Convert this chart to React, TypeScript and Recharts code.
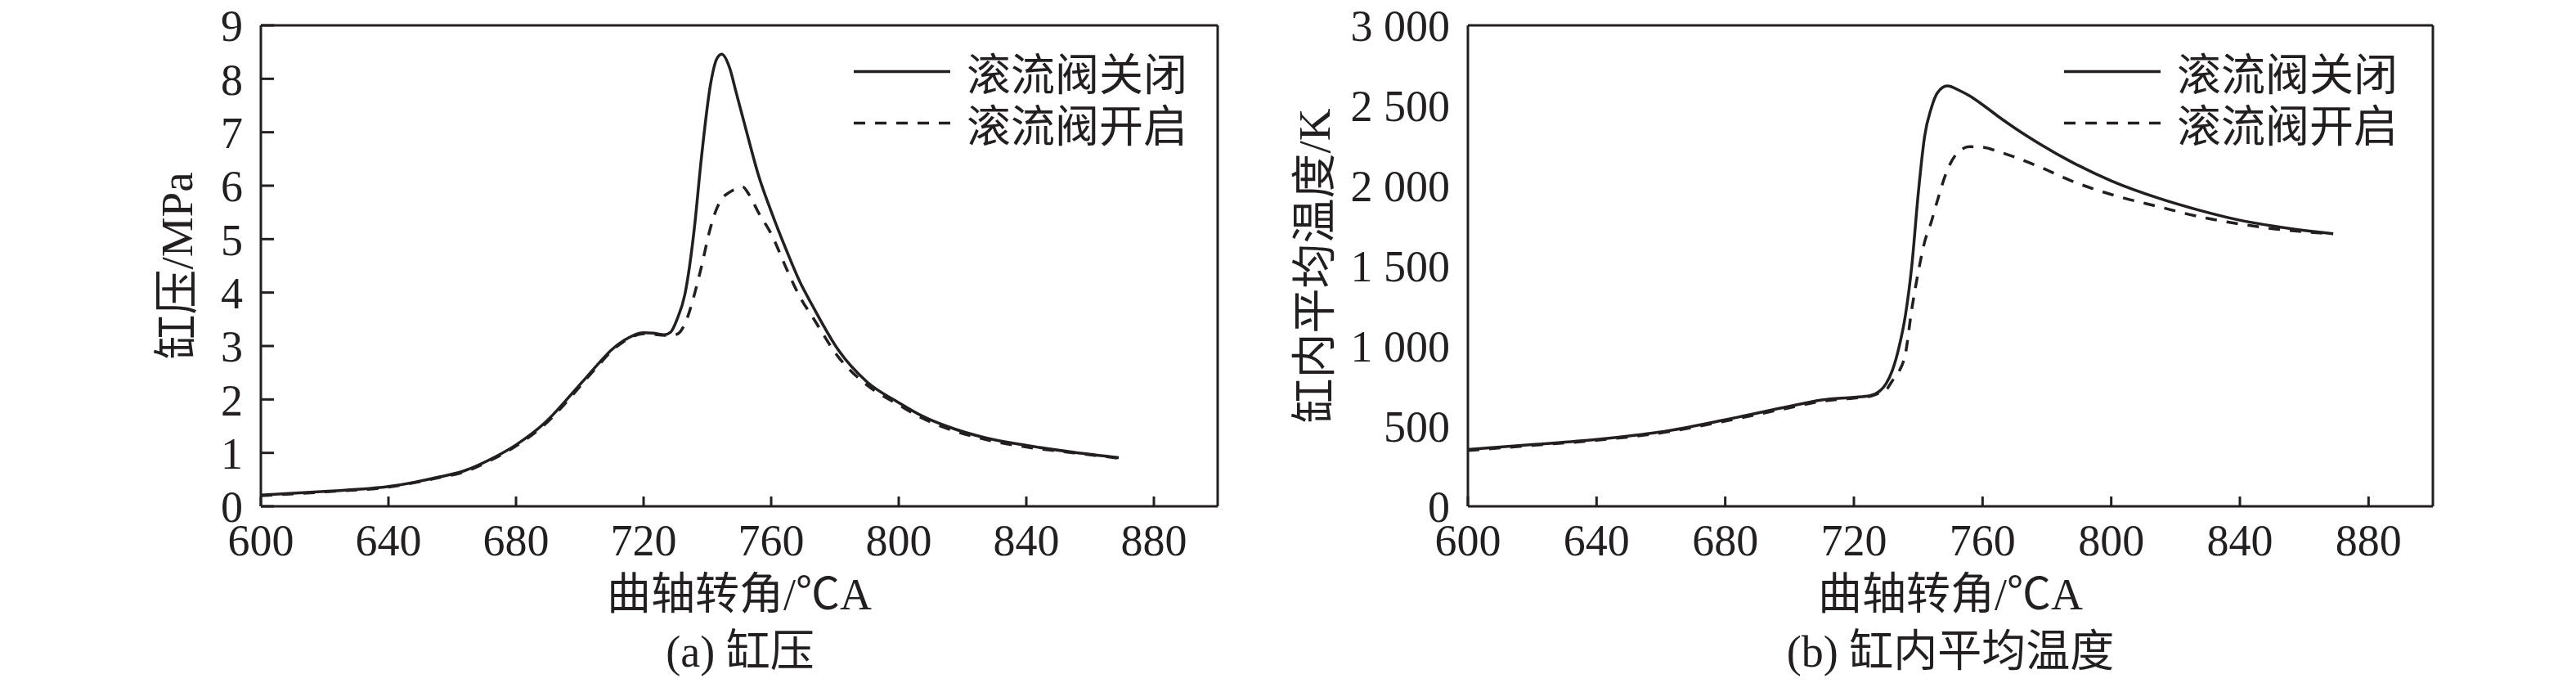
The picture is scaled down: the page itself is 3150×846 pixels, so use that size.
import React from 'react';
import { LineChart, Line, XAxis, YAxis, ReferenceLine, Legend } from 'recharts';

const INK = '#231f20';
const SERIF = "'Liberation Serif', 'Times New Roman', 'Noto Sans CJK SC', serif";
const CJK = "'Noto Sans CJK SC', 'Liberation Serif', serif";

// ---- shared ----
const seriesNames = ['滚流阀关闭', '滚流阀开启'];
const angleTicks = [600, 640, 680, 720, 760, 800, 840, 880];

// ---- (a) cylinder pressure ----
const anglesA = [600, 620, 640, 656, 664, 672, 680, 689, 698, 702, 706, 710, 714, 720, 723, 726.5, 728.5, 730.5, 733, 736, 738, 741, 743, 744.5, 747, 749, 751, 753, 756, 760, 765, 769, 773, 781, 790, 800, 807, 815, 828, 840, 855, 869];
const pressureClosed = [0.21, 0.28, 0.37, 0.55, 0.67, 0.88, 1.15, 1.56, 2.14, 2.41, 2.68, 2.93, 3.11, 3.25, 3.24, 3.21, 3.26, 3.5, 3.98, 5.25, 6.45, 7.9, 8.38, 8.46, 8.2, 7.75, 7.3, 6.85, 6.2, 5.52, 4.76, 4.2, 3.75, 2.93, 2.33, 1.94, 1.7, 1.5, 1.27, 1.14, 1.01, 0.91];
const pressureOpen = [0.2, 0.27, 0.36, 0.54, 0.65, 0.86, 1.13, 1.53, 2.1, 2.38, 2.65, 2.91, 3.09, 3.23, 3.22, 3.2, 3.2, 3.22, 3.42, 3.98, 4.45, 5.22, 5.58, 5.75, 5.88, 5.94, 5.98, 5.84, 5.5, 5.1, 4.42, 3.92, 3.54, 2.8, 2.27, 1.9, 1.66, 1.46, 1.24, 1.11, 1.0, 0.9];
const pressureTicks = [0, 1, 2, 3, 4, 5, 6, 7, 8, 9];

// ---- (b) mean in-cylinder temperature ----
const anglesB = [600, 620, 640, 660, 680, 700, 710, 720, 725, 728, 730, 732, 734, 736, 738, 740, 742, 744, 746, 749, 753, 756, 760, 765, 770, 778, 787, 800, 815, 827, 839, 851, 869];
const tempClosed = [355, 385, 417, 464, 540, 624, 663, 680, 690, 719, 765, 850, 990, 1190, 1500, 1950, 2310, 2480, 2580, 2622, 2592, 2560, 2505, 2430, 2360, 2258, 2155, 2030, 1920, 1849, 1789, 1746, 1700];
const tempOpen = [348, 380, 412, 458, 532, 615, 655, 675, 686, 708, 726, 785, 840, 950, 1230, 1460, 1650, 1770, 1910, 2095, 2220, 2243, 2240, 2212, 2178, 2115, 2035, 1945, 1868, 1808, 1764, 1730, 1700];
const tempLabelTicks = [0, 500, 1000, 1500, 2000, 2500, 3000];
const tempMarkTicks = [600, 1200, 1800, 2400];

const rowsA = anglesA.map((a, i) => ({ angle: a, closed: pressureClosed[i], open: pressureOpen[i] }));
const rowsB = anglesB.map((a, i) => ({ angle: a, closed: tempClosed[i], open: tempOpen[i] }));

const fmtThousands = (v: number) =>
  v >= 1000 ? `${Math.floor(v / 1000)} ${String(v % 1000).padStart(3, '0')}` : String(v);

const tickStyle = { fill: INK, fontSize: 54, fontFamily: SERIF };
const axisLineStyle = { stroke: INK, strokeWidth: 3 };
const LINE_W = 3.5;
const DASH = '14 12';

const renderLegend = (props: any) => {
  const items = props.payload || [];
  return (
    <div style={{ fontFamily: CJK, fontSize: 54, color: INK }}>
      {items.map((it: any, i: number) => (
        <div key={i} style={{ display: 'flex', alignItems: 'center', height: 63, overflow: 'visible' }}>
          <svg width={118} height={63} style={{ display: 'block' }}>
            <line x1={0} x2={118} y1={31.5} y2={31.5} stroke={INK} strokeWidth={LINE_W}
              strokeDasharray={it.payload && it.payload.strokeDasharray ? it.payload.strokeDasharray : undefined} />
          </svg>
          <div style={{ marginLeft: 20, height: 63, lineHeight: '63px', whiteSpace: 'nowrap', overflow: 'visible' }}>{it.value}</div>
        </div>
      ))}
    </div>
  );
};

function PressureChart() {
  return (
    <LineChart width={1575} height={846} data={rowsA} margin={{ top: 31, right: 86, bottom: 167, left: 169 }}>
      <XAxis dataKey="angle" type="number" domain={[600, 900]} ticks={angleTicks} interval={0} height={60}
        axisLine={axisLineStyle} tickLine={axisLineStyle} tickSize={-12} tickMargin={34} tick={tickStyle} />
      <YAxis type="number" domain={[0, 9]} ticks={pressureTicks} interval={0} width={150}
        axisLine={axisLineStyle} tickLine={axisLineStyle} tickSize={-16} tickMargin={38} tick={tickStyle} />
      <ReferenceLine y={9} stroke={INK} strokeWidth={3} />
      <ReferenceLine x={900} stroke={INK} strokeWidth={3} />
      <Line dataKey="closed" name={seriesNames[0]} type="monotone" stroke={INK} strokeWidth={LINE_W} dot={false} isAnimationActive={false} />
      <Line dataKey="open" name={seriesNames[1]} type="monotone" stroke={INK} strokeWidth={LINE_W} strokeDasharray={DASH} dot={false} isAnimationActive={false} />
      <Legend layout="vertical" align="center" verticalAlign="middle" content={renderLegend}
        wrapperStyle={{ left: 1044, top: 56, width: 'auto', height: 'auto' }} />
    </LineChart>
  );
}

function TemperatureChart() {
  return (
    <LineChart width={1575} height={846} data={rowsB} margin={{ top: 31, right: 175, bottom: 167, left: 70 }}>
      <XAxis dataKey="angle" type="number" domain={[600, 900]} ticks={angleTicks} interval={0} height={60}
        axisLine={axisLineStyle} tickLine={axisLineStyle} tickSize={-12} tickMargin={34} tick={tickStyle} />
      <YAxis yAxisId="t" type="number" domain={[0, 3000]} ticks={tempLabelTicks} interval={0} width={150}
        axisLine={axisLineStyle} tickLine={false} tickSize={0} tickMargin={22} tick={tickStyle} tickFormatter={fmtThousands} />
      <YAxis yAxisId="m" type="number" domain={[0, 3000]} ticks={tempMarkTicks} interval={0} width={0} mirror
        axisLine={false} tickLine={axisLineStyle} tickSize={15} tick={false} />
      <ReferenceLine yAxisId="t" y={3000} stroke={INK} strokeWidth={3} />
      <ReferenceLine yAxisId="t" x={900} stroke={INK} strokeWidth={3} />
      <Line yAxisId="t" dataKey="closed" name={seriesNames[0]} type="monotone" stroke={INK} strokeWidth={LINE_W} dot={false} isAnimationActive={false} />
      <Line yAxisId="t" dataKey="open" name={seriesNames[1]} type="monotone" stroke={INK} strokeWidth={LINE_W} strokeDasharray={DASH} dot={false} isAnimationActive={false} />
      <Legend layout="vertical" align="center" verticalAlign="middle" content={renderLegend}
        wrapperStyle={{ left: 949, top: 56, width: 'auto', height: 'auto' }} />
    </LineChart>
  );
}

export default function App() {
  const textProps = { fill: INK, fontFamily: SERIF, fontSize: 54 } as const;
  return (
    <div style={{ position: 'relative', width: 3150, height: 846, background: '#fff', overflow: 'hidden' }}>
      <style>{'body{margin:0;background:#fff;}'}</style>
      <div style={{ position: 'absolute', left: 0, top: 0 }}>
        <PressureChart />
      </div>
      <div style={{ position: 'absolute', left: 1575, top: 0 }}>
        <TemperatureChart />
      </div>
      <svg width={3150} height={846} style={{ position: 'absolute', left: 0, top: 0, pointerEvents: 'none' }}>
        <text {...textProps} fontSize={55} textAnchor="middle" dominantBaseline="central" transform="translate(216,325) rotate(-90)">缸压/MPa</text>
        <text {...textProps} textAnchor="middle" x={904} y={745}>曲轴转角/℃A</text>
        <text {...textProps} textAnchor="middle" x={905} y={815}>(a) 缸压</text>
        <text {...textProps} fontSize={55} textAnchor="middle" dominantBaseline="central" transform="translate(1607,325) rotate(-90)">缸内平均温度/K</text>
        <text {...textProps} textAnchor="middle" x={2385} y={745}>曲轴转角/℃A</text>
        <text {...textProps} textAnchor="middle" x={2385} y={815}>(b) 缸内平均温度</text>
      </svg>
    </div>
  );
}
